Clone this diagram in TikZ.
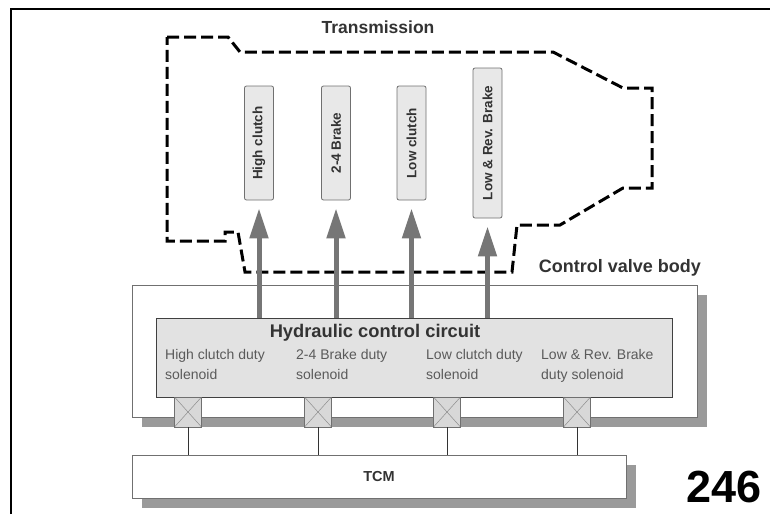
\documentclass[tikz,border=0pt]{standalone}
\usepackage{fontspec}
\setmainfont{Liberation Sans}
\usetikzlibrary{arrows.meta,shadows}
\definecolor{txtdark}{HTML}{333333}
\definecolor{txtmid}{HTML}{5A5A5A}
\definecolor{boxfill}{HTML}{E8E8E8}
\definecolor{hydfill}{HTML}{E2E2E2}
\definecolor{shadowgray}{HTML}{9A9A9A}
\definecolor{arrowgray}{HTML}{767676}
\definecolor{edgegray}{HTML}{707070}
\begin{document}
\begin{tikzpicture}[x=1pt,y=-1pt,
  heading/.style={font=\fontsize{17.5}{20}\selectfont\bfseries, text=txtdark, inner sep=0pt},
  clutchbox/.style={draw=edgegray, fill=boxfill, rounded corners=2pt, rotate=90,
     minimum height=29pt, inner sep=0pt, line width=0.8pt,
     font=\fontsize{13.5}{16}\selectfont\bfseries, text=txtdark},
  bigbox/.style={draw=edgegray, line width=0.9pt, fill=white, inner sep=0pt,
     drop shadow={shadow xshift=10pt, shadow yshift=-10pt, fill=shadowgray, opacity=1}},
  solbox/.style={draw=edgegray, fill=hydfill!90!gray, minimum width=27pt, minimum height=30pt,
     inner sep=0pt, line width=0.7pt,
     path picture={\draw[edgegray!80, line width=0.5pt]
        (path picture bounding box.south west) -- (path picture bounding box.north east)
        (path picture bounding box.north west) -- (path picture bounding box.south east);}},
  sollabel/.style={font=\fontsize{14}{20}\selectfont, text=txtmid, align=left, anchor=north west, inner sep=0pt},
  flow/.style={draw=arrowgray, line width=5pt, -{Triangle[width=18pt,length=30pt]}},
  wire/.style={draw=black!80, line width=0.8pt}
]
\useasboundingbox (0,0) rectangle (770,514);
% frame
\draw[line width=2pt] (11,514) -- (11,9) -- (770,9);

% transmission outline
\draw[line width=3pt, dash pattern=on 12pt off 5pt, line join=miter]
  (167,37) -- (228,37) -- (240,52) -- (553,52) -- (623,88) -- (652,88)
  -- (652,188) -- (623,188) -- (560,225) -- (517,225) -- (512,272)
  -- (245,272) -- (238,232) -- (225,232) -- (225,241) -- (167,241) -- cycle;
\node[heading] (tlabel) at (378,27) {Transmission};

% clutch boxes
\node[clutchbox, minimum width=114pt] (hc) at (259,143) {High clutch};
\node[clutchbox, minimum width=114pt] (bk) at (336,143) {2-4 Brake};
\node[clutchbox, minimum width=114pt] (lc) at (411.5,143) {Low clutch};
\node[clutchbox, minimum width=150pt] (lr) at (487.5,143) {Low \& Rev. Brake};

% control valve body
\node[bigbox, minimum width=565pt, minimum height=132pt] (cvb) at (414.5,351) {};
\node[heading, font=\fontsize{18}{20}\selectfont\bfseries, anchor=east] (cvblabel) at (701,268) {Control valve body};

% hydraulic control circuit
\node[draw=black!75, fill=hydfill, line width=0.9pt, minimum width=516pt, minimum height=79pt, inner sep=0pt] (hyd) at (414,357.5) {};
\node[heading, font=\fontsize{18.3}{20}\selectfont\bfseries] (hydlabel) at (375,333) {Hydraulic control circuit};
\node[sollabel] (s1) at (165,349) {High clutch duty\\solenoid};
\node[sollabel] (s2) at (296,349) {2-4 Brake duty\\solenoid};
\node[sollabel] (s3) at (426,349) {Low clutch duty\\solenoid};
\node[sollabel] (s4) at (541,349) {Low \& Rev. Brake\\duty solenoid};

% arrows
\draw[flow] (hyd.north -| hc) -- ([yshift=-8pt]hc.west);
\draw[flow] (hyd.north -| bk) -- ([yshift=-8pt]bk.west);
\draw[flow] (hyd.north -| lc) -- ([yshift=-8pt]lc.west);
\draw[flow] (hyd.north -| lr) -- ([yshift=-8pt]lr.west);

% solenoid connectors
\node[solbox] (q1) at (188,412) {};
\node[solbox] (q2) at (318,412) {};
\node[solbox] (q3) at (447,412) {};
\node[solbox] (q4) at (577,412) {};

% TCM
\node[bigbox, minimum width=494pt, minimum height=43pt, font=\fontsize{14.5}{18}\selectfont\bfseries, text=txtdark] (tcm) at (379,476.5) {TCM};

% wires
\draw[wire] (q1.south) -- (q1.south |- tcm.north);
\draw[wire] (q2.south) -- (q2.south |- tcm.north);
\draw[wire] (q3.south) -- (q3.south |- tcm.north);
\draw[wire] (q4.south) -- (q4.south |- tcm.north);

% page number
\node[font=\fontsize{45}{47}\selectfont\bfseries, inner sep=0pt] (pg) at (724,487) {246};
\end{tikzpicture}
\end{document}
